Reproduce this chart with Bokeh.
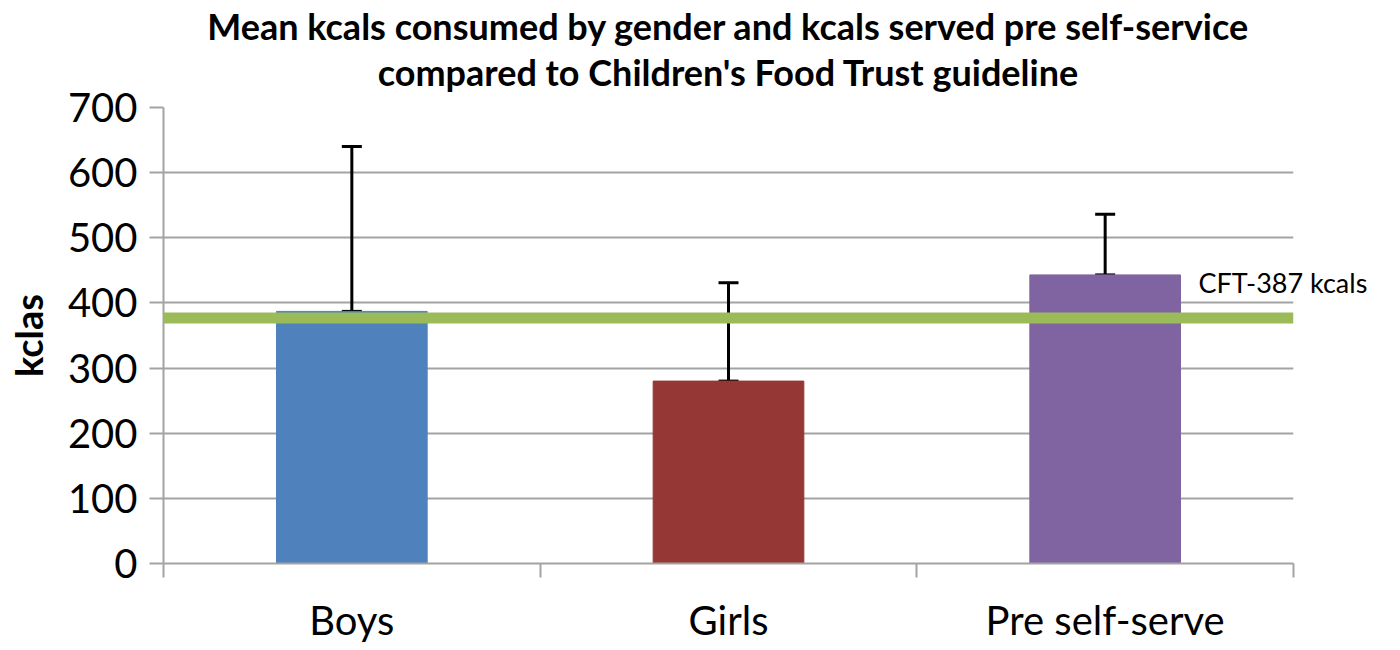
from bokeh.plotting import figure
from bokeh.models import (ColumnDataSource, Whisker, Span, FixedTicker,
                          Range1d, TeeHead, LinearAxis, Title)
from bokeh.embed import file_html
from bokeh.resources import INLINE

# ---- data ----
categories = ["Boys", "Girls", "Pre self-serve"]
mean_kcals = [387, 280, 443]
upper_err = [640, 431, 536]
bar_colors = ["#4F81BD", "#953735", "#8064A2"]
guideline_value = 377
guideline_label = "CFT-387 kcals"
guideline_label_at = 431
y_ticks = [0, 100, 200, 300, 400, 500, 600, 700]
title_lines = ["Mean kcals consumed by gender and kcals served pre self-service",
               "compared to Children's Food Trust guideline"]
y_label = "kclas"

FONT = "Lato"
GRID = "#A3A3A3"

xpos = [i + 0.5 for i in range(len(categories))]
src = ColumnDataSource(dict(x=xpos, top=mean_kcals, upper=upper_err,
                            color=bar_colors, cat=categories))

W, H = 1384, 646
p = figure(width=W, height=H, output_backend="svg", toolbar_location=None,
           x_range=Range1d(0, len(categories)), y_range=Range1d(0, 700),
           min_border_left=163, min_border_right=W - 1293, min_border_top=107,
           min_border_bottom=H - 565)
p.outline_line_color = None
p.background_fill_color = "white"
p.border_fill_color = "white"

p.vbar(x="x", top="top", width=0.4, bottom=0, color="color", source=src)

wh = Whisker(base="x", lower="top", upper="upper", source=src,
             line_color="black", line_width=3,
             upper_head=TeeHead(size=20, line_width=3, line_color="black"),
             lower_head=TeeHead(size=20, line_width=3, line_color="black"))
p.add_layout(wh)

span = Span(location=guideline_value, dimension="width", line_color="#9BBB59",
            line_width=11)
p.add_layout(span)

# grid / axes
p.xgrid.grid_line_color = None
p.ygrid.grid_line_color = GRID
p.ygrid.grid_line_width = 2
p.ygrid.ticker = FixedTicker(ticks=y_ticks)

p.yaxis.ticker = FixedTicker(ticks=y_ticks)
p.yaxis.axis_line_color = GRID
p.yaxis.axis_line_width = 2
p.yaxis.major_tick_line_color = GRID
p.yaxis.major_tick_line_width = 2
p.yaxis.major_tick_out = 14
p.yaxis.major_tick_in = 0
p.yaxis.minor_tick_line_color = None
p.yaxis.major_label_text_font = FONT
p.yaxis.major_label_text_font_size = "40px"
p.yaxis.major_label_text_color = "black"
p.yaxis.major_label_standoff = 12
p.yaxis.axis_label = y_label
p.yaxis.axis_label_text_font = FONT
p.yaxis.axis_label_text_font_style = "bold"
p.yaxis.axis_label_text_font_size = "38px"
p.yaxis.axis_label_text_color = "black"
p.yaxis.axis_label_standoff = 14

p.xaxis.ticker = FixedTicker(ticks=xpos, minor_ticks=list(range(len(categories) + 1)))
p.xaxis.major_label_overrides = {x: c for x, c in zip(xpos, categories)}
p.xaxis.axis_line_color = GRID
p.xaxis.axis_line_width = 2
p.xaxis.major_tick_line_color = None
p.xaxis.major_tick_out = 0
p.xaxis.major_tick_in = 0
p.xaxis.minor_tick_line_color = GRID
p.xaxis.minor_tick_line_width = 2
p.xaxis.minor_tick_out = 14
p.xaxis.minor_tick_in = 0
p.xaxis.major_label_text_font = FONT
p.xaxis.major_label_text_font_size = "40px"
p.xaxis.major_label_text_color = "black"
p.xaxis.major_label_standoff = 18

# guideline label as a right-side axis label (so it is not clipped by the frame)
gl_axis = LinearAxis(ticker=FixedTicker(ticks=[guideline_label_at]),
                     major_label_overrides={guideline_label_at: guideline_label},
                     axis_line_color=None, major_tick_line_color=None,
                     minor_tick_line_color=None, major_tick_out=0, major_tick_in=0,
                     major_label_standoff=1198 - 1293,
                     major_label_text_font=FONT, major_label_text_font_size="27px",
                     major_label_text_color="black")
p.add_layout(gl_axis, "right")

# two centred title lines; a blank spacer sits nearest the plot area
p.add_layout(Title(text=" ", align="center", text_font=FONT,
                   text_font_size="10px", standoff=0), "above")
p.add_layout(Title(text=title_lines[1], align="center", text_font=FONT,
                   text_font_style="bold", text_font_size="36px",
                   text_color="black", standoff=0), "above")
p.add_layout(Title(text=title_lines[0], align="center", text_font=FONT,
                   text_font_style="bold", text_font_size="36px",
                   text_color="black", standoff=0), "above")

open("out.html", "w").write(file_html(p, INLINE))
